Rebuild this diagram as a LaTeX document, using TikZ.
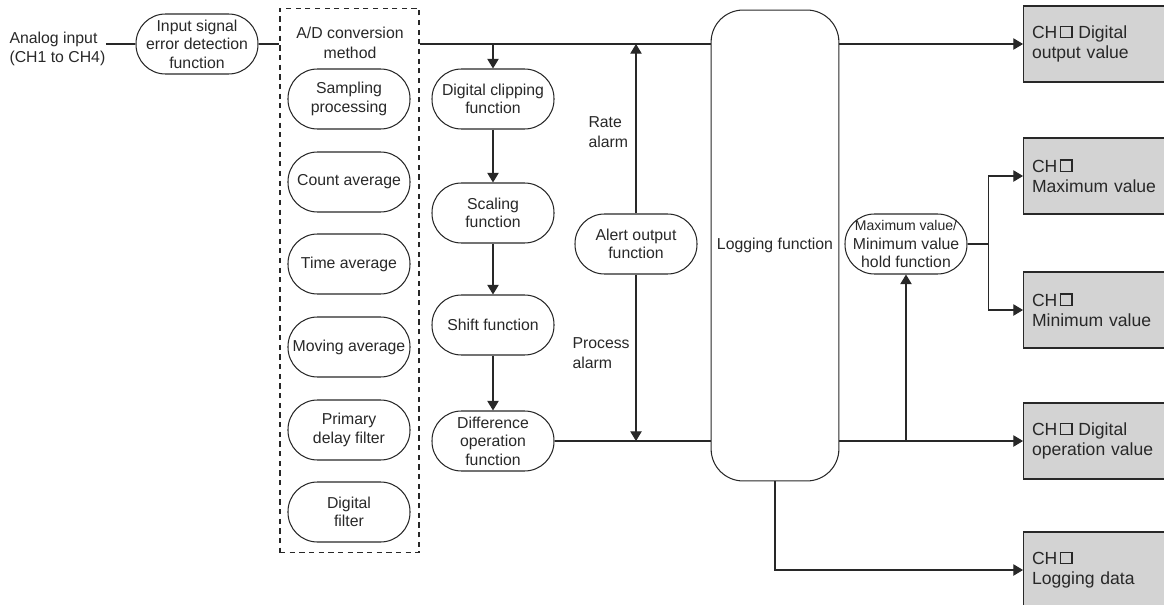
\documentclass[tikz,border=0pt]{standalone}
\usepackage{fontspec}
\setmainfont{Liberation Sans}
\usetikzlibrary{arrows.meta}
\definecolor{boxgray}{RGB}{211,211,211}
\definecolor{ink}{RGB}{40,40,40}
\def\chsq{{\setlength\fboxrule{0.9pt}\setlength\fboxsep{0pt}\kern1.2pt\raisebox{0.9pt}{\fbox{\rule{0pt}{0.54em}\hspace{0.56em}}}}}
\tikzset{
  func/.style={draw, rectangle, rounded corners=0.59cm, minimum width=2.44cm, minimum height=1.2cm,
    inner sep=1pt, align=center, font=\fontsize{9}{10.5}\selectfont},
  outbox/.style={draw, fill=boxgray, anchor=west, minimum height=1.52cm, text width=3cm,
    inner xsep=0.17cm, align=left, font=\fontsize{10}{11.5}\selectfont},
  lbl/.style={align=left, inner sep=0pt, font=\fontsize{9}{11}\selectfont},
  arr/.style={-{Triangle[length=5.5pt,width=6.5pt]}}
}

\begin{document}
\begin{tikzpicture}[x=0.02cm, y=-0.02cm, color=ink, line width=0.6pt]
  \useasboundingbox (0,0) rectangle (1164,605);
  \node[lbl, anchor=west] (analog) at (9,49) {Analog input\\(CH1 to CH4)};
  \node[func] (inerr) at (197,44) {Input signal\\error detection\\function};
  \node[draw, dashed, dash pattern=on 3pt off 2.5pt, minimum width=2.78cm, minimum height=10.9cm] (adbox) at (349.5,280.5) {};
  \node[lbl, align=center] (adtitle) at (350,43) {A/D conversion\\method};
  \node[func] (samp) at (349,99) {Sampling\\processing};
  \node[func] (count) at (349,182) {Count average};
  \node[func] (time) at (349,264) {Time average};
  \node[func] (moving) at (349,347) {Moving average};
  \node[func] (primary) at (349,430) {Primary\\delay filter};
  \node[func] (digf) at (349,512) {Digital\\filter};
  \node[func] (clip) at (493,99) {Digital clipping\\function};
  \node[func] (scale) at (493,213) {Scaling\\function};
  \node[func] (shift) at (493,325) {Shift function};
  \node[func] (diff) at (493,441) {Difference\\operation\\function};
  \node[func] (alert) at (636,244) {Alert output\\function};
  \node[lbl, anchor=west] (rate) at (588,132) {Rate\\alarm};
  \node[lbl, anchor=west] (process) at (572,353) {Process\\alarm};
  \node[draw, rounded corners=0.64cm, minimum width=2.48cm, minimum height=9.42cm,
    font=\fontsize{9}{10.5}\selectfont] (log) at (775,245.5) {Logging function};
  \node[func] (hold) at (906,244) {{\fontsize{8}{9}\selectfont Maximum value/}\\Minimum value\\hold function};
  \node[outbox] (outdig) at (1023,44) {CH\chsq{} Digital\\output value};
  \node[outbox] (outmax) at (1023,176) {CH\chsq\\Maximum value};
  \node[outbox] (outmin) at (1023,310) {CH\chsq\\Minimum value};
  \node[outbox] (outop) at (1023,441) {CH\chsq{} Digital\\operation value};
  \node[outbox] (outlog) at (1023,570) {CH\chsq\\Logging data};

  \draw (analog.east |- inerr) -- (inerr.west);
  \draw (inerr.east) -- (adbox.west |- inerr);
  \draw (adbox.east |- inerr) -- (log.west |- inerr);
  \draw[arr] (clip.north |- inerr) -- (clip.north);
  \draw[arr] (clip) -- (scale);
  \draw[arr] (scale) -- (shift);
  \draw[arr] (shift) -- (diff);
  \draw (diff.east) -- (log.west |- diff);
  \draw[arr] (alert.north) -- (alert.north |- inerr);
  \draw[arr] (alert.south) -- (alert.south |- diff);
  \draw[arr] (log.east |- inerr) -- (outdig.west);
  \draw[arr] (log.east |- diff) -- (outop.west);
  \draw[arr] (hold.south |- diff) -- (hold.south);
  \draw (hold.east) -- ++(21,0) coordinate (split);
  \draw[arr] (split) |- (outmax.west);
  \draw[arr] (split) |- (outmin.west);
  \draw[arr] (log.south) |- (outlog.west);
\end{tikzpicture}
\end{document}
